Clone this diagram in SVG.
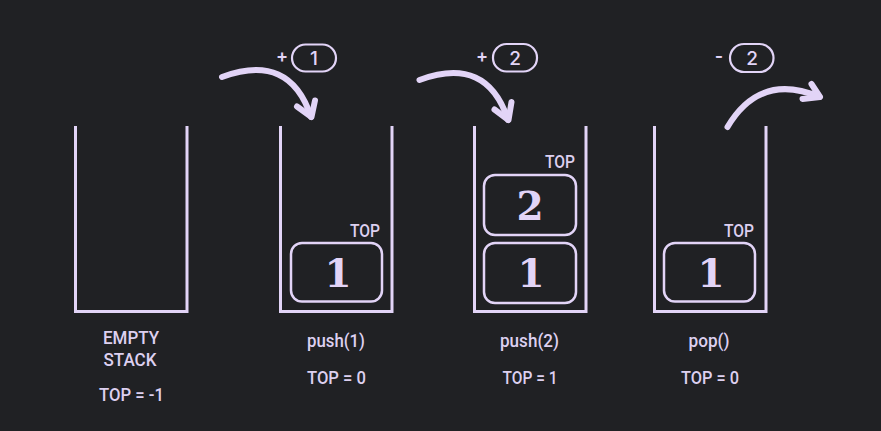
<svg xmlns="http://www.w3.org/2000/svg" width="881" height="431" viewBox="0 0 881 431">
<style>
.bg{fill:#202124}
.stack{fill:none;stroke:#e2d4f7;stroke-width:3}
.box{fill:none;stroke:#e2d4f7;stroke-width:2.5}
.badge{fill:none;stroke:#e2d4f7;stroke-width:2.2}
.num{font-family:"DejaVu Serif",serif;font-weight:bold;font-size:39px;fill:#e2d4f7;text-anchor:middle}
.lbl{font-family:Roboto,"Liberation Sans",sans-serif;font-weight:500;font-size:19px;fill:#ddd0f0;text-anchor:middle}
.top{font-family:Roboto,"Liberation Sans",sans-serif;font-weight:500;font-size:17.5px;fill:#ddd0f0;text-anchor:end}
.bt{font-family:Inter,"Liberation Sans",sans-serif;font-weight:500;font-size:19px;fill:#e2d4f7;text-anchor:middle}
.sign{font-family:Inter,"Liberation Sans",sans-serif;font-weight:600;font-size:18px;fill:#e2d4f7;text-anchor:middle}
.arr{fill:none;stroke:#e2d4f7;stroke-width:6;stroke-linecap:round;stroke-linejoin:round}
</style>
<rect class="bg" x="0" y="0" width="881" height="431"/>

<g id="stack-empty">
<path class="stack" d="M75.5,126 V311.5 H187 V126"/>
<text class="lbl" x="131" y="344" textLength="56" lengthAdjust="spacingAndGlyphs">EMPTY</text>
<text class="lbl" x="130" y="366" textLength="53" lengthAdjust="spacingAndGlyphs">STACK</text>
<text class="lbl" x="131.5" y="400.5" textLength="65" lengthAdjust="spacingAndGlyphs">TOP = -1</text>
</g>

<g id="stack-push1">
<path class="stack" d="M280.5,126 V311.5 H392 V126"/>
<rect class="box" x="291" y="243" width="91" height="58.5" rx="11"/>
<text class="num" x="338" y="286.5">1</text>
<text class="top" x="380" y="236.5" textLength="30" lengthAdjust="spacingAndGlyphs">TOP</text>
<text class="lbl" x="336" y="346.5" textLength="58" lengthAdjust="spacingAndGlyphs">push(1)</text>
<text class="lbl" x="336.5" y="384" textLength="59" lengthAdjust="spacingAndGlyphs">TOP = 0</text>
</g>

<g id="stack-push2">
<path class="stack" d="M474.5,126 V311.5 H586 V126"/>
<rect class="box" x="484" y="175" width="92" height="60" rx="11"/>
<text class="num" x="530" y="219.5">2</text>
<rect class="box" x="484" y="243" width="92" height="60" rx="11"/>
<text class="num" x="531" y="286.5">1</text>
<text class="top" x="575" y="168" textLength="30" lengthAdjust="spacingAndGlyphs">TOP</text>
<text class="lbl" x="529.5" y="346.5" textLength="59" lengthAdjust="spacingAndGlyphs">push(2)</text>
<text class="lbl" x="530" y="384" textLength="55" lengthAdjust="spacingAndGlyphs">TOP = 1</text>
</g>

<g id="stack-pop">
<path class="stack" d="M654.5,126 V311.5 H766 V126"/>
<rect class="box" x="664" y="243" width="91" height="58.5" rx="11"/>
<text class="num" x="711" y="286.5">1</text>
<text class="top" x="754" y="236.5" textLength="30" lengthAdjust="spacingAndGlyphs">TOP</text>
<text class="lbl" x="709" y="346.5" textLength="41" lengthAdjust="spacingAndGlyphs">pop()</text>
<text class="lbl" x="710" y="384" textLength="58" lengthAdjust="spacingAndGlyphs">TOP = 0</text>
</g>

<g id="badge-plus1">
<text class="sign" x="282" y="62">+</text>
<rect class="badge" x="292" y="44.5" width="44" height="27" rx="13.5"/>
<text class="bt" x="314" y="65">1</text>
</g>
<g id="badge-plus2">
<text class="sign" x="482" y="62">+</text>
<rect class="badge" x="493" y="44" width="44" height="27.5" rx="13.5"/>
<text class="bt" x="515" y="65">2</text>
</g>
<g id="badge-minus2">
<text class="sign" x="719" y="62">-</text>
<rect class="badge" x="730" y="44" width="43.5" height="28" rx="14"/>
<text class="bt" x="752" y="65">2</text>
</g>

<g id="connectors">
<path class="arr" d="M222,77 Q290,52 311,117"/>
<path class="arr" d="M297,106.5 L311.5,117 L315,100.5"/>
<path class="arr" d="M419.5,80 Q487,55 508,120"/>
<path class="arr" d="M494.5,109.5 L508.5,120 L511.5,102"/>
<path class="arr" d="M727.5,127 Q760,72 819.5,97"/>
<path class="arr" d="M811.5,84 L820,97 L802.5,99"/>
</g>
</svg>
